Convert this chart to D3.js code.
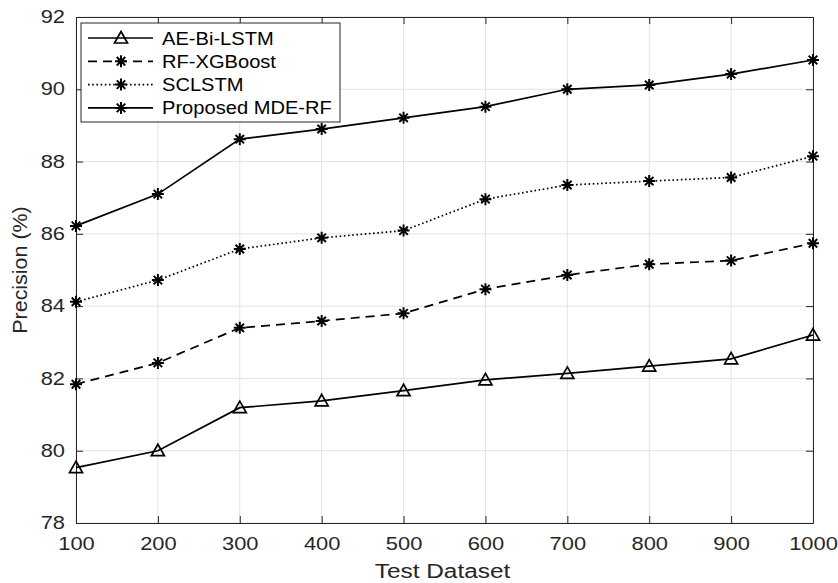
<!DOCTYPE html>
<html>
<head>
<meta charset="utf-8">
<script src="https://cdn.jsdelivr.net/npm/d3@7"></script>
<style>
  body { margin: 0; background: #fff; }
  svg { display: block; font-family: "Liberation Sans", Arial, Helvetica, sans-serif; }
</style>
</head>
<body>
<div id="chart"></div>
<script>
"use strict";

const testSizes = [100, 200, 300, 400, 500, 600, 700, 800, 900, 1000];
const aeBiLstm = [79.53, 80.0, 81.19, 81.38, 81.66, 81.96, 82.14, 82.34, 82.54, 83.2];
const rfXgboost = [81.84, 82.43, 83.4, 83.59, 83.8, 84.47, 84.86, 85.16, 85.26, 85.74];
const sclstm = [84.12, 84.72, 85.58, 85.89, 86.09, 86.96, 87.35, 87.46, 87.56, 88.15];
const mdeRf = [86.22, 87.1, 88.62, 88.9, 89.21, 89.52, 90.0, 90.12, 90.42, 90.81];
const yTicks = [78, 80, 82, 84, 86, 88, 90, 92];

const seriesList = [
    { name: "AE-Bi-LSTM", values: aeBiLstm, dash: null, marker: "triangle" },
    { name: "RF-XGBoost", values: rfXgboost, dash: "9,6", marker: "star" },
    { name: "SCLSTM", values: sclstm, dash: "1.6,2.6", marker: "star" },
    { name: "Proposed MDE-RF", values: mdeRf, dash: null, marker: "star" }
];

const width = 838, height = 583;
const plotL = 76, plotR = 813, plotT = 17, plotB = 523;
const axisColor = "#262626";
const stretch = 1.25; // the source figure's text is a bit wider than Arial

const svg = d3.select("#chart").append("svg")
    .attr("width", width).attr("height", height);

const x = d3.scaleLinear().domain([100, 1000]).range([plotL, plotR]);
const y = d3.scaleLinear().domain([78, 92]).range([plotB, plotT]);

// grid
const grid = svg.append("g").attr("stroke", "#e3e3e3").attr("stroke-width", 1);
grid.selectAll(".gx").data(testSizes).join("line").attr("class", "gx")
    .attr("x1", d => x(d)).attr("x2", d => x(d)).attr("y1", plotT).attr("y2", plotB);
grid.selectAll(".gy").data(yTicks).join("line").attr("class", "gy")
    .attr("y1", d => y(d)).attr("y2", d => y(d)).attr("x1", plotL).attr("x2", plotR);

// axes (MATLAB style: inward ticks, box)
function styleAxis(g) {
    g.select(".domain").attr("stroke", axisColor);
    g.selectAll(".tick line").attr("stroke", axisColor);
    g.selectAll(".tick text").attr("fill", axisColor).attr("font-size", 17.5)
        .attr("font-family", "Liberation Sans, Arial, sans-serif")
        .each(function () {
            const t = d3.select(this);
            const tx = +t.attr("x") || 0;
            t.attr("x", 0).attr("transform", `translate(${tx},0) scale(${stretch},1)`);
        });
}
svg.append("g").attr("transform", `translate(0,${plotB})`)
    .call(d3.axisBottom(x).tickValues(testSizes).tickFormat(d3.format("d"))
        .tickSize(-7).tickSizeOuter(0).tickPadding(15))
    .call(styleAxis);
svg.append("g").attr("transform", `translate(0,${plotT})`)
    .call(d3.axisTop(x).tickValues(testSizes).tickSize(-7).tickSizeOuter(0).tickFormat(""))
    .call(styleAxis);
svg.append("g").attr("transform", `translate(${plotL},0)`)
    .call(d3.axisLeft(y).tickValues(yTicks).tickSize(-7).tickSizeOuter(0).tickPadding(11))
    .call(styleAxis);
svg.append("g").attr("transform", `translate(${plotR},0)`)
    .call(d3.axisRight(y).tickValues(yTicks).tickSize(-7).tickSizeOuter(0).tickFormat(""))
    .call(styleAxis);

// axis titles
svg.append("text")
    .attr("transform", `translate(${(plotL + plotR) / 2 - 2},578) scale(${stretch},1)`)
    .attr("text-anchor", "middle").attr("font-size", 19.5).attr("fill", axisColor)
    .text("Test Dataset");
svg.append("text")
    .attr("transform", `translate(26.5,${(plotT + plotB) / 2}) rotate(-90) scale(1.1,1)`)
    .attr("text-anchor", "middle").attr("font-size", 19.5).attr("fill", axisColor)
    .text("Precision (%)");

// markers
const starPath = (() => {
    const r = 6, d = r * Math.SQRT1_2;
    return `M${-r},0L${r},0M0,${-r}L0,${r}M${-d},${-d}L${d},${d}M${-d},${d}L${d},${-d}`;
})();
const triPath = "M0,-6.5L6.5,5L-6.5,5Z";

function drawMarker(g, type) {
    if (type === "triangle") {
        g.append("path").attr("d", triPath).attr("fill", "none")
            .attr("stroke", "#000").attr("stroke-width", 1.7);
    } else {
        g.append("path").attr("d", starPath).attr("fill", "none")
            .attr("stroke", "#000").attr("stroke-width", 2);
    }
}

const line = d3.line().x((d, i) => x(testSizes[i])).y(d => y(d));

seriesList.forEach(s => {
    svg.append("path").datum(s.values).attr("d", line)
        .attr("fill", "none").attr("stroke", "#000").attr("stroke-width", 1.7)
        .attr("stroke-dasharray", s.dash);
    s.values.forEach((v, i) => {
        const g = svg.append("g").attr("transform", `translate(${x(testSizes[i])},${y(v)})`);
        drawMarker(g, s.marker);
    });
});

// legend
const legend = svg.append("g").attr("transform", "translate(81,23)");
legend.append("rect").attr("width", 259).attr("height", 99)
    .attr("fill", "#fff").attr("stroke", axisColor).attr("stroke-width", 1);
seriesList.forEach((s, i) => {
    const ly = 15 + i * 23.3;
    legend.append("line").attr("x1", 7).attr("x2", 72).attr("y1", ly).attr("y2", ly)
        .attr("stroke", "#000").attr("stroke-width", 1.7).attr("stroke-dasharray", s.dash);
    const g = legend.append("g").attr("transform", `translate(40,${ly})`);
    drawMarker(g, s.marker);
    legend.append("text").attr("transform", `translate(81,${ly + 6.5}) scale(1.13,1)`)
        .attr("font-size", 17.8).attr("fill", "#000").text(s.name);
});
</script>
</body>
</html>
